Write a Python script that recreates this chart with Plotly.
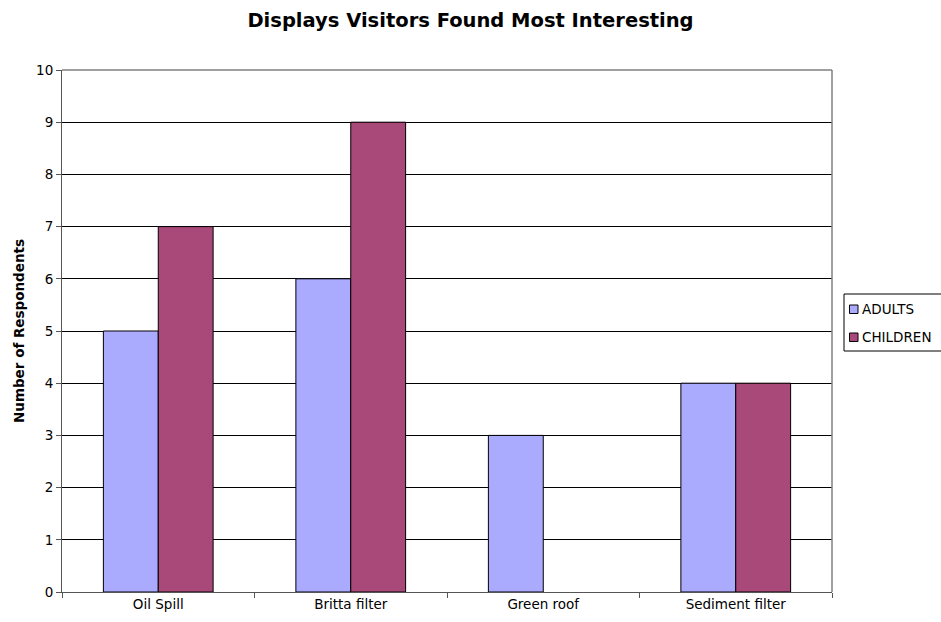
import plotly.graph_objects as go

categories = ["Oil Spill", "Britta filter", "Green roof", "Sediment filter"]
adults = [5, 6, 3, 4]
children = [7, 9, 0, 4]
y_ticks = list(range(0, 11))
series_names = ["ADULTS", "CHILDREN"]
series_colors = ["#AAAAFF", "#A9497A"]

FONT = "DejaVu Sans, Verdana, sans-serif"
W, H = 941, 622
ML, MR, MT, MB = 62, 109, 70, 30
PW, PH = W - ML - MR, H - MT - MB


def px_x(px):
    return (px - ML) / PW


def px_y(py):
    return (H - MB - py) / PH


fig = go.Figure()
for name, vals, col in zip(series_names, [adults, children], series_colors):
    fig.add_trace(go.Bar(
        x=categories, y=vals, name=name,
        marker=dict(color=col,
                    line=dict(color="#000000",
                              width=[1 if v else 0 for v in vals])),
    ))

fig.update_layout(
    width=W, height=H,
    margin=dict(l=ML, r=MR, t=MT, b=MB, autoexpand=False),
    paper_bgcolor="white", plot_bgcolor="white",
    font=dict(family=FONT, size=13.5, color="#000000"),
    title=dict(
        text="<b>Displays Visitors Found Most Interesting</b>",
        x=0.5, xref="container", xanchor="center",
        y=1 - 20 / H, yref="container", yanchor="middle",
        font=dict(family=FONT, size=19.5, color="#000000"),
    ),
    barmode="group", bargap=0.43, bargroupgap=0,
    showlegend=False,
)

fig.update_xaxes(
    type="category", tickson="boundaries",
    ticks="outside", ticklen=5, tickcolor="#555555",
    showline=True, linecolor="#555555", linewidth=1,
    showgrid=False, tickfont=dict(size=13.5),
)
fig.update_yaxes(
    range=[0, 10], tickvals=y_ticks,
    ticks="outside", ticklen=5, tickcolor="#555555",
    showline=True, linecolor="#555555", linewidth=1,
    showgrid=True, gridcolor="#000000", gridwidth=1,
    zeroline=False, tickfont=dict(size=13.5),
    title=dict(text="<b>Number of Respondents</b>", standoff=8,
               font=dict(size=13.5)),
)

# plot-area frame (top and right edges)
fig.add_shape(type="line", xref="paper", yref="paper", x0=0, x1=1, y0=1, y1=1,
              line=dict(color="#808080", width=1.5))
fig.add_shape(type="line", xref="paper", yref="paper", x0=1, x1=1, y0=0, y1=1,
              line=dict(color="#808080", width=1.5))

# legend box with swatches and labels
fig.add_shape(type="rect", xref="paper", yref="paper",
              x0=px_x(844), x1=px_x(950), y0=px_y(294), y1=px_y(351),
              line=dict(color="#000000", width=1), fillcolor="white")
for i, (name, col) in enumerate(zip(series_names, series_colors)):
    cy = 309 + i * 28
    fig.add_shape(type="rect", xref="paper", yref="paper",
                  x0=px_x(849.5), x1=px_x(858), y0=px_y(cy + 4.5), y1=px_y(cy - 4),
                  line=dict(color="#000000", width=1), fillcolor=col)
    fig.add_annotation(xref="paper", yref="paper", x=px_x(859.5), y=px_y(cy),
                       text=name, showarrow=False, xanchor="left", yanchor="middle",
                       font=dict(family=FONT, size=13.5, color="#000000"))

fig.write_html("out.html")
